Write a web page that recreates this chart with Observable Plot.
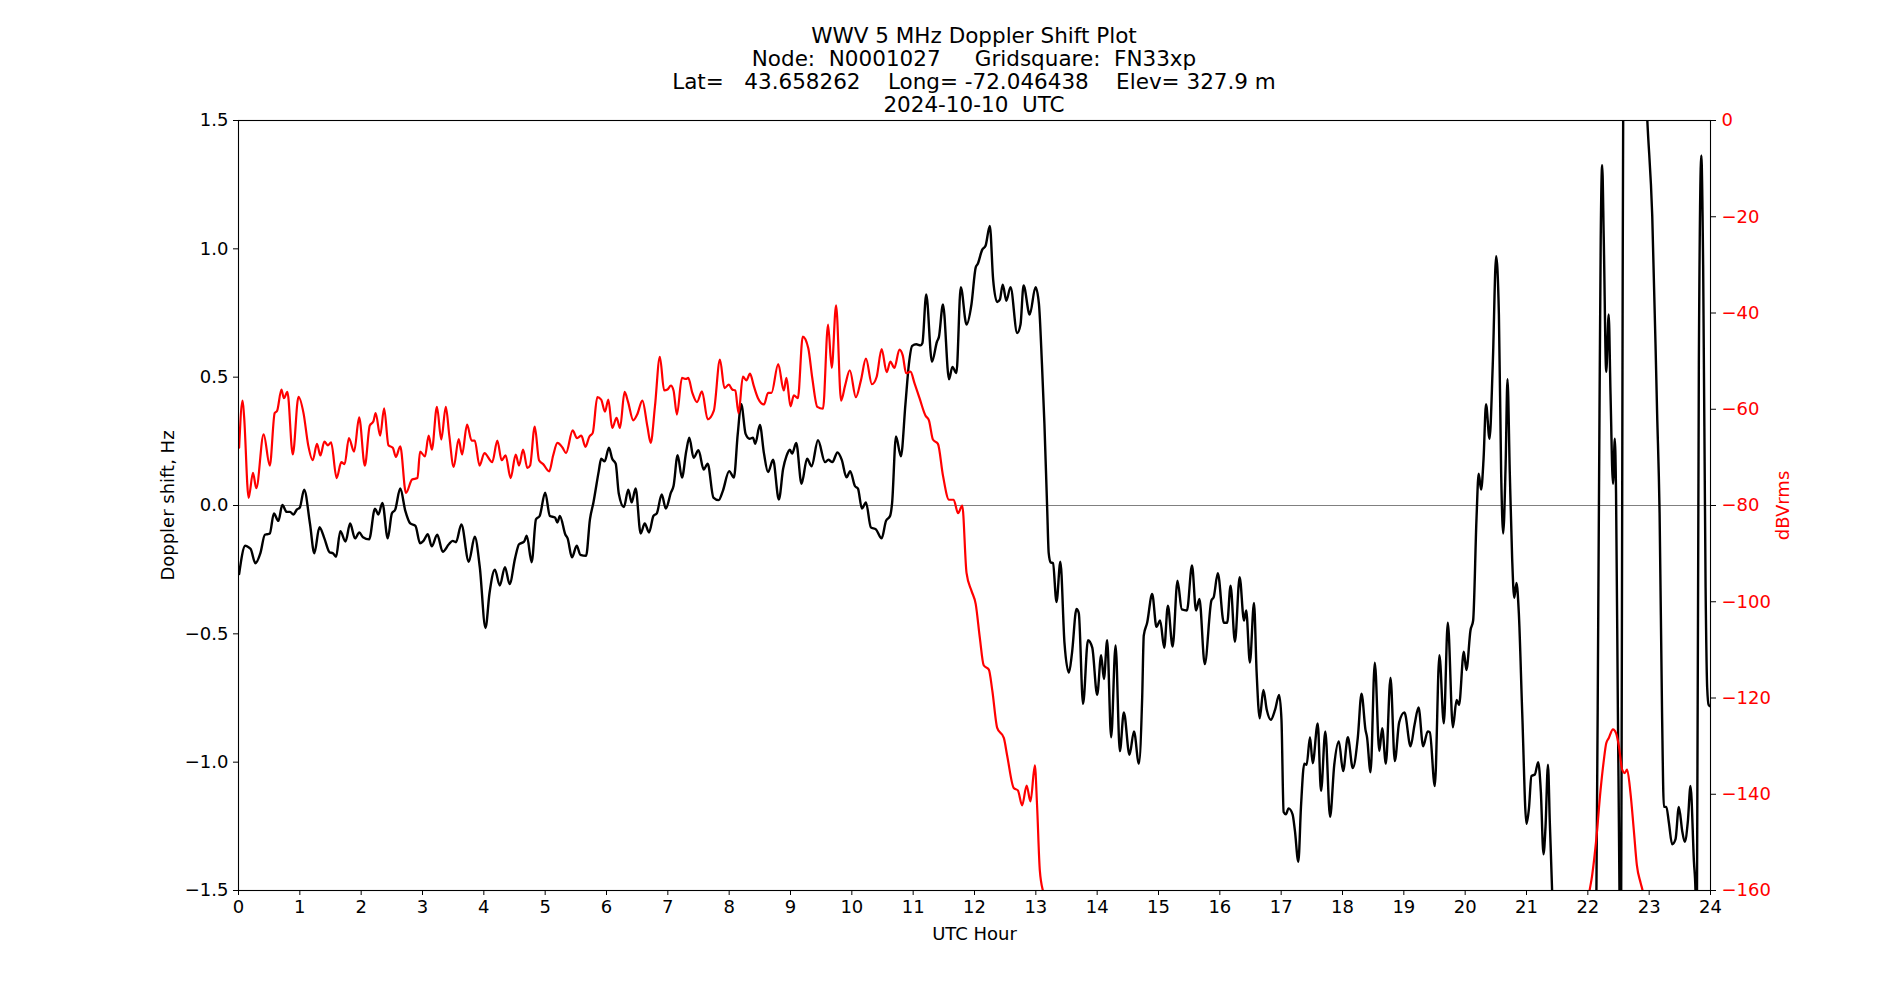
<!DOCTYPE html>
<html>
<head>
<meta charset="utf-8">
<script src="https://cdn.jsdelivr.net/npm/d3@7"></script>
<script src="https://cdn.jsdelivr.net/npm/@observablehq/plot@0.6"></script>
<style>
  html, body { margin: 0; padding: 0; background: #ffffff; }
  #wrap { position: relative; width: 1900px; height: 1000px; font-family: "DejaVu Sans", sans-serif; }
  #title { position: absolute; left: 0; top: 23.5px; width: 1948px; text-align: center;
           font-size: 21.5px; line-height: 23px; white-space: pre; color: #000; }
  #chart { position: absolute; left: 0; top: 0; }
  #chart svg g[aria-label$="label"] text { font-size: 18px; }
</style>
</head>
<body>
<div id="wrap">
  <div id="chart"></div>
  <div id="title"></div>
</div>
<script>
// ---------- Text ----------
const titleLines = [
  "WWV 5 MHz Doppler Shift Plot",
  "Node:  N0001027     Gridsquare:  FN33xp",
  "Lat=   43.658262    Long= -72.046438    Elev= 327.9 m",
  "2024-10-10  UTC"
];
const xLabel = "UTC Hour";
const yLeftLabel = "Doppler shift, Hz";
const yRightLabel = "dBVrms";

// ---------- Ticks ----------
const xTicks = d3.range(0, 25, 1);
const hzTicks = [-1.5, -1.0, -0.5, 0.0, 0.5, 1.0, 1.5];
const dbTicks = [0, -20, -40, -60, -80, -100, -120, -140, -160];
const hzDomain = [-1.5, 1.5];
const dbDomain = [-160, 0];

// ---------- Doppler shift (black), UTC hour / Hz ----------
const dopplerHour = [
  0.01,0.11,0.165,0.2,0.275,0.357,0.43,0.467,0.51,0.577,0.65,0.714,0.786,0.84,0.896,0.95,1.0,1.07,1.165,1.236,
  1.32,1.4,1.484,1.54,1.59,1.66,1.745,1.82,1.9,1.97,2.03,2.13,2.225,2.28,2.346,2.434,2.5,2.555,2.637,2.72,
  2.8,2.885,2.96,3.016,3.087,3.15,3.24,3.33,3.43,3.49,3.546,3.634,3.754,3.852,3.934,4.027,4.093,4.18,4.26,4.344,
  4.42,4.51,4.574,4.656,4.7,4.78,4.85,4.91,5.0,5.077,5.16,5.2,5.24,5.33,5.366,5.437,5.514,5.574,5.667,5.73,
  5.787,5.874,5.913,5.97,6.04,6.093,6.15,6.2,6.284,6.355,6.41,6.475,6.557,6.623,6.694,6.765,6.82,6.9,6.967,7.05,
  7.093,7.16,7.23,7.3,7.35,7.42,7.5,7.585,7.65,7.743,7.83,7.896,8.0,8.077,8.14,8.197,8.268,8.333,8.388,8.426,
  8.5,8.568,8.634,8.716,8.81,8.88,8.934,8.99,9.027,9.093,9.18,9.27,9.344,9.448,9.563,9.617,9.683,9.765,9.836,9.913,
  9.973,10.05,10.1,10.164,10.23,10.31,10.393,10.486,10.557,10.623,10.656,10.72,10.8,10.874,10.93,10.984,11.05,11.12,11.15,11.213,
  11.306,11.388,11.42,11.486,11.585,11.64,11.705,11.776,11.87,11.95,12.02,12.054,12.125,12.18,12.25,12.304,12.37,12.413,12.46,12.52,
  12.587,12.696,12.75,12.8,12.9,12.995,13.05,13.1,13.14,13.185,13.21,13.24,13.28,13.337,13.4,13.467,13.54,13.59,13.663,13.7,
  13.77,13.85,13.92,14.0,14.065,14.11,14.163,14.228,14.3,14.37,14.435,14.527,14.6,14.68,14.734,14.76,14.815,14.897,14.967,15.027,
  15.093,15.153,15.23,15.31,15.38,15.464,15.546,15.612,15.667,15.754,15.863,15.9,15.967,16.066,16.12,16.175,16.246,16.323,16.394,16.43,
  16.49,16.557,16.6,16.65,16.71,16.765,16.83,16.9,16.967,17.005,17.04,17.077,17.12,17.186,17.224,17.28,17.323,17.377,17.415,17.47,
  17.514,17.596,17.65,17.72,17.797,17.866,17.94,18.01,18.087,18.168,18.25,18.31,18.375,18.4,18.457,18.527,18.6,18.647,18.707,18.783,
  18.853,18.924,19.01,19.11,19.174,19.24,19.315,19.39,19.424,19.505,19.58,19.652,19.717,19.8,19.86,19.9,19.978,20.02,20.087,20.13,
  20.185,20.22,20.26,20.3,20.34,20.397,20.45,20.505,20.55,20.587,20.62,20.66,20.69,20.728,20.766,20.8,20.837,20.875,20.93,21.0,
  21.04,21.08,21.136,21.19,21.234,21.277,21.31,21.35,21.38,21.418,21.5,22.05,22.14,22.17,22.19,22.21,22.234,22.26,22.3,22.34,
  22.37,22.41,22.44,22.46,22.49,22.516,22.535,22.56,22.585,22.77,22.97,23.05,23.13,23.17,23.21,23.24,23.28,23.32,23.375,23.43,
  23.484,23.54,23.58,23.63,23.674,23.73,23.755,23.765,23.78,23.81,23.85,23.88,23.92,23.946,23.97,24.0
];
const dopplerHz = [
  -0.267,-0.157,-0.163,-0.17,-0.225,-0.186,-0.114,-0.112,-0.109,-0.031,-0.06,0.002,-0.025,-0.025,-0.035,-0.016,-0.008,0.062,-0.07,-0.186,
  -0.085,-0.128,-0.182,-0.186,-0.2,-0.1,-0.14,-0.07,-0.128,-0.105,-0.124,-0.132,-0.012,-0.035,0.01,-0.128,-0.031,-0.016,0.066,-0.021,
  -0.07,-0.079,-0.147,-0.138,-0.112,-0.159,-0.114,-0.18,-0.151,-0.138,-0.143,-0.074,-0.219,-0.122,-0.24,-0.477,-0.341,-0.25,-0.312,-0.24,
  -0.306,-0.205,-0.151,-0.141,-0.118,-0.221,-0.054,-0.041,0.05,-0.041,-0.047,-0.066,-0.041,-0.114,-0.128,-0.202,-0.157,-0.192,-0.196,-0.054,
  0.012,0.134,0.182,0.172,0.225,0.182,0.163,0.047,-0.006,0.062,0.012,0.066,-0.109,-0.07,-0.105,-0.041,-0.031,0.043,-0.012,0.05,
  0.076,0.196,0.109,0.211,0.264,0.186,0.215,0.14,0.163,0.031,0.021,0.056,0.134,0.109,0.279,0.395,0.279,0.26,0.264,0.24,
  0.314,0.202,0.13,0.178,0.023,0.143,0.192,0.217,0.202,0.244,0.085,0.182,0.153,0.254,0.169,0.178,0.169,0.207,0.178,0.11,
  0.134,0.076,0.066,-0.012,0.012,-0.085,-0.093,-0.128,-0.06,-0.041,0.008,0.269,0.192,0.395,0.55,0.622,0.628,0.624,0.632,0.822,
  0.56,0.638,0.657,0.783,0.492,0.54,0.516,0.851,0.705,0.783,0.928,0.942,0.996,1.012,1.089,0.88,0.793,0.802,0.86,0.798,
  0.851,0.672,0.705,0.857,0.744,0.851,0.787,0.55,0.318,-0.012,-0.186,-0.221,-0.225,-0.376,-0.219,-0.535,-0.651,-0.574,-0.403,-0.419,
  -0.773,-0.525,-0.554,-0.738,-0.583,-0.676,-0.525,-0.903,-0.545,-0.957,-0.806,-0.971,-0.88,-1.006,-0.748,-0.506,-0.457,-0.345,-0.473,-0.448,
  -0.554,-0.39,-0.55,-0.293,-0.405,-0.409,-0.234,-0.409,-0.364,-0.618,-0.37,-0.357,-0.264,-0.457,-0.457,-0.312,-0.531,-0.279,-0.448,-0.409,
  -0.612,-0.38,-0.651,-0.829,-0.719,-0.796,-0.835,-0.796,-0.738,-0.835,-1.194,-1.203,-1.18,-1.203,-1.267,-1.388,-1.174,-1.006,-1.01,-0.903,
  -1.004,-0.849,-1.112,-0.88,-1.213,-1.01,-0.919,-1.035,-0.903,-1.023,-0.903,-0.733,-0.874,-0.903,-1.039,-0.612,-0.957,-0.868,-1.006,-0.671,
  -0.996,-0.845,-0.806,-0.938,-0.855,-0.787,-0.938,-0.88,-0.884,-1.093,-0.583,-0.849,-0.457,-0.864,-0.758,-0.777,-0.57,-0.641,-0.486,-0.448,
  -0.05,0.124,0.062,0.182,0.395,0.26,0.55,0.971,0.744,0.124,-0.109,0.163,0.492,0.124,-0.205,-0.36,-0.302,-0.419,-0.806,-1.24,
  -1.18,-1.054,-1.048,-1.0,-1.116,-1.359,-1.252,-1.01,-1.233,-1.504,-2.3,-2.3,-1.5,-0.419,0.357,1.035,1.326,1.035,0.521,0.744,
  0.434,0.085,0.26,0.047,-0.806,-1.5,-2.2,0.0,2.2,2.8,1.5,1.13,0.357,-0.03,-0.806,-1.174,-1.174,-1.233,-1.32,-1.3,
  -1.174,-1.27,-1.31,-1.233,-1.093,-1.388,-1.5,-1.7,-1.5,0.55,1.364,0.938,-0.32,-0.71,-0.777,-0.783
];

// ---------- Received power (red), UTC hour / dBVrms ----------
const powerHour = [
  0.01,0.066,0.09,0.165,0.236,0.29,0.41,0.51,0.59,0.63,0.70,0.74,0.797,0.885,0.978,1.06,1.137,1.21,1.28,1.335,
  1.4,1.456,1.51,1.6,1.676,1.73,1.8,1.885,1.967,2.06,2.14,2.2,2.236,2.31,2.374,2.445,2.516,2.566,2.637,2.73,
  2.83,2.918,2.96,3.04,3.1,3.153,3.235,3.306,3.38,3.437,3.508,3.59,3.645,3.727,3.8,3.852,3.93,4.01,4.137,4.22,
  4.29,4.355,4.437,4.52,4.574,4.64,4.71,4.754,4.83,4.9,4.967,5.066,5.13,5.2,5.284,5.34,5.448,5.52,5.59,5.656,
  5.72,5.776,5.85,5.913,5.975,6.03,6.093,6.164,6.22,6.295,6.35,6.437,6.5,6.585,6.667,6.72,6.79,6.87,6.94,6.995,
  7.05,7.093,7.148,7.23,7.295,7.333,7.4,7.475,7.557,7.65,7.75,7.85,7.923,7.995,8.05,8.1,8.153,8.224,8.28,8.34,
  8.4,8.47,8.568,8.634,8.69,8.8,8.89,8.934,9.0,9.055,9.12,9.2,9.29,9.355,9.437,9.53,9.612,9.672,9.743,9.825,
  9.89,9.967,10.066,10.148,10.23,10.328,10.404,10.486,10.568,10.628,10.694,10.776,10.83,10.885,10.956,11.02,11.104,11.2,11.257,11.322,
  11.404,11.486,11.585,11.66,11.732,11.8,11.87,11.95,12.02,12.087,12.15,12.234,12.29,12.37,12.478,12.533,12.64,12.707,12.777,12.85,
  12.913,12.984,13.02,13.065,13.13,13.3,21.9,22.016,22.07,22.136,22.207,22.26,22.3,22.342,22.41,22.46,22.505,22.56,22.6,22.64,
  22.695,22.75,22.8,22.86,22.9,23.0,24.0
];
const powerDb = [
  -68,-58.2,-61.3,-78.4,-73.2,-76.4,-65.2,-71.7,-60.8,-60.3,-55.9,-57.7,-56.4,-69.4,-57.4,-60.8,-67.5,-70.6,-67.2,-69.6,
  -66.7,-67.5,-66.9,-74.3,-71,-71.4,-66,-68.8,-61.7,-71.7,-63.4,-62.5,-60.8,-65.5,-59.8,-67.5,-68,-69.9,-67.7,-77.4,
  -74.6,-74.3,-68.8,-69.8,-65.5,-68.4,-59.5,-66.3,-59.5,-65.5,-72,-66.2,-69.4,-63.2,-66.5,-66.5,-71.7,-69.1,-71,-66.5,
  -70.6,-69.6,-74.3,-69.4,-71.7,-68.4,-72.2,-71.7,-63.6,-70.6,-71.4,-72.9,-69.6,-67,-68,-69.1,-64.4,-66,-65.5,-67.8,
  -65.7,-64.9,-57.5,-58,-60.5,-58,-63.9,-61.8,-63.9,-56.4,-58.4,-62.3,-61.1,-58.2,-63.6,-67,-59.4,-49.1,-56.1,-55.9,
  -55.1,-56.1,-61.1,-53.5,-53.7,-53.5,-56.6,-58.5,-56.3,-62.1,-60.3,-49.7,-55.6,-54.9,-55.9,-56.1,-60.8,-53.2,-54,-52.6,
  -55.1,-57.7,-59,-56.6,-56.6,-50.6,-56.1,-53.5,-59.4,-57.1,-57.7,-44.9,-47.3,-53.5,-59.5,-59.9,-42.4,-51.4,-38.4,-58.2,
  -55.1,-51.9,-57.5,-54,-49.5,-54.8,-53.3,-47.5,-52.3,-50.1,-51.4,-47.6,-48.8,-52.5,-52.2,-54.5,-57.7,-61.3,-62.3,-66.3,
  -67.2,-73.8,-78.8,-78.8,-81.6,-80,-94,-97.7,-100.5,-107.5,-113.2,-114.1,-118.4,-126.2,-128.3,-132,-138.7,-139.2,-142.3,-138.2,
  -141.5,-134,-142.3,-155.8,-161,-175,-175,-161,-156.9,-149.6,-139.2,-133,-129.4,-128.3,-126.5,-127.3,-129.9,-134.9,-135.6,-134.9,
  -139.7,-147.5,-154.8,-158.4,-160.5,-175,-175
];

// ---------- Tables ----------
const doppler = dopplerHour.map((h, i) => ({hour: h, hz: dopplerHz[i]}));
const power = powerHour.map((h, i) => ({hour: h, db: powerDb[i]}));

// twin axis: map dBVrms domain onto the Hz scale range
const dbToHz = d3.scaleLinear().domain(dbDomain).range(hzDomain);

document.getElementById("title").textContent = titleLines.join("\n");

const chart = Plot.plot({
  width: 1900,
  height: 1000,
  marginTop: 120,
  marginBottom: 110,
  marginLeft: 238,
  marginRight: 190,
  style: {fontFamily: "'DejaVu Sans', sans-serif", fontSize: "17px", background: "#ffffff", color: "#000000", overflow: "visible"},
  x: {domain: [0, 24]},
  y: {domain: hzDomain},
  marks: [
    Plot.ruleY([0], {stroke: "#808080", strokeWidth: 1.2}),
    Plot.line(doppler, {x: "hour", y: "hz", stroke: "#000000", strokeWidth: 2.4, curve: "monotone-x", clip: true}),
    Plot.line(power, {x: "hour", y: d => dbToHz(d.db), stroke: "#ff0000", strokeWidth: 2.2, curve: "monotone-x", clip: true}),
    Plot.frame({stroke: "#000000", strokeWidth: 1.1}),
    Plot.axisX({ticks: xTicks, tickSize: 5, tickPadding: 5, tickFormat: d3.format("d"),
      label: xLabel, labelAnchor: "center", labelArrow: "none", labelOffset: 49, stroke: "#000", fill: "#000"}),
    Plot.axisY({anchor: "left", ticks: hzTicks, tickSize: 5, tickPadding: 5, tickFormat: d3.format(".1f"),
      label: yLeftLabel, labelAnchor: "center", labelArrow: "none", labelOffset: 77, stroke: "#000", fill: "#000"}),
    Plot.axisY({anchor: "right", ticks: dbTicks.map(d => dbToHz(d)), tickSize: 5, tickPadding: 6,
      tickFormat: y => d3.format("d")(Math.round(dbToHz.invert(y))),
      label: yRightLabel, labelAnchor: "center", labelArrow: "none", labelOffset: 78, stroke: "#000", fill: "#ff0000"})
  ]
});
document.getElementById("chart").appendChild(chart);
</script>
</body>
</html>
